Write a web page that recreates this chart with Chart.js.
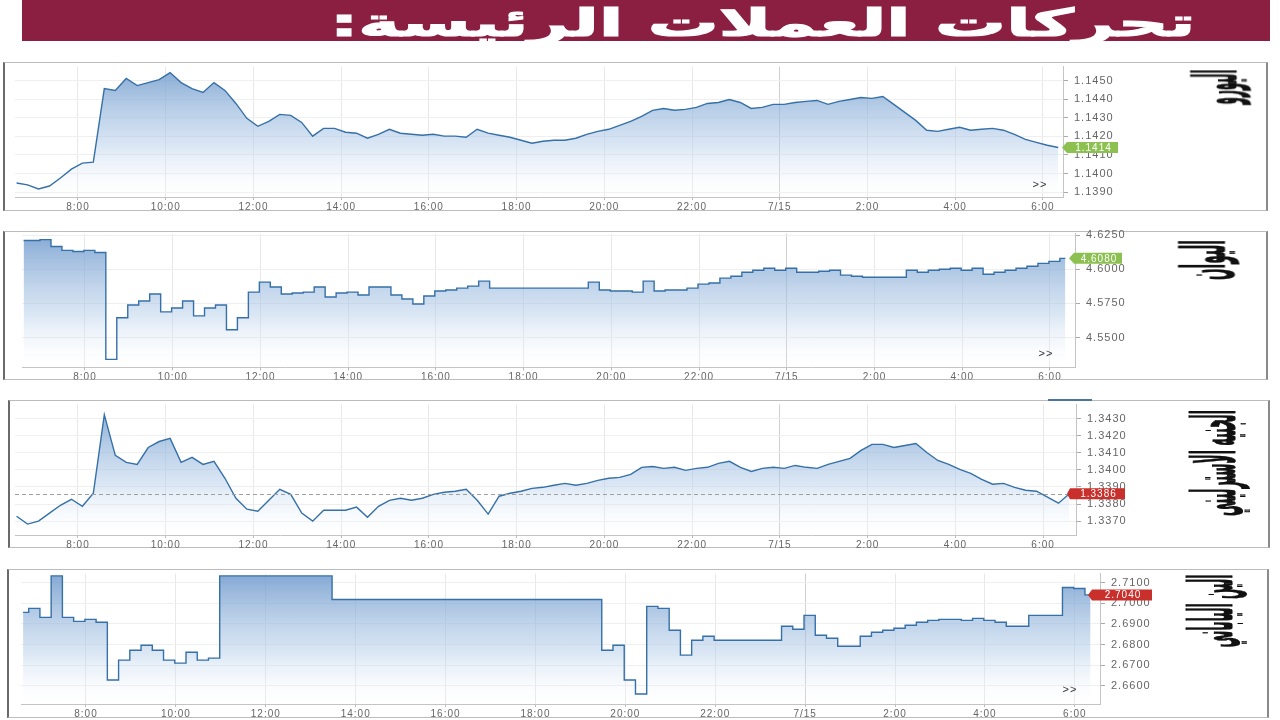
<!DOCTYPE html>
<html lang="ar">
<head>
<meta charset="utf-8">
<title>تحركات العملات الرئيسة</title>
<script src="https://cdn.jsdelivr.net/npm/chart.js@4.4.0/dist/chart.umd.min.js"></script>
<style>
  body { margin:0; width:1280px; height:720px; overflow:hidden; background:#fff; position:relative;
         font-family:"DejaVu Sans", sans-serif; }
  #banner { position:absolute; left:22px; top:0; width:1248px; height:41px; background:#8b1f42; }
  .fit { position:absolute; white-space:nowrap; line-height:1; font-weight:bold; transform-origin:50% 50%; }
  #title { color:#fff; font-size:38px; -webkit-text-stroke:1.2px #fff; }
  .name { color:#111; font-size:60px; -webkit-text-stroke:1px #111; }
  .box { position:absolute; box-sizing:border-box; border:1px solid #bcbcbc;
         border-left:2px solid #6a6a6a; border-right:2px solid #8a8a8a; background:#fff; }
  canvas { position:absolute; }
</style>
</head>
<body>
<div id="banner"></div>

<script>
// ---- data ----
const sampleStart = 6.6;    // first sample, hours (6:36)
const sampleStep  = 0.25;   // one value every 15 min
const xTickHours  = [8, 10, 12, 14, 16, 18, 20, 22, 24, 26, 28, 30];
const dayLabel    = "7/15";

const titleText   = "تحركات العملات الرئيسة:";
const seriesNames = ["اليورو", "اليوان", "الجنيه الاسترليني", "الين الياباني"];

const eurValues = [
  1.13949, 1.13939, 1.13917, 1.13933, 1.13976, 1.14024, 1.14056, 1.14061, 1.14457, 1.14447,
  1.14511, 1.14473, 1.14489, 1.14505, 1.14543, 1.14489, 1.14457, 1.14436, 1.14489, 1.14447,
  1.14377, 1.14297, 1.14254, 1.14281, 1.14318, 1.14313, 1.14275, 1.14201, 1.14243, 1.14243,
  1.14222, 1.14217, 1.14190, 1.14211, 1.14238, 1.14217, 1.14211, 1.14206, 1.14211, 1.14201,
  1.14201, 1.14195, 1.14238, 1.14217, 1.14206, 1.14195, 1.14179, 1.14163, 1.14174, 1.14179,
  1.14179, 1.14190, 1.14211, 1.14227, 1.14238, 1.14259, 1.14281, 1.14307, 1.14340, 1.14350,
  1.14340, 1.14345, 1.14356, 1.14377, 1.14382, 1.14398, 1.14382, 1.14350, 1.14356, 1.14372,
  1.14372, 1.14382, 1.14388, 1.14393, 1.14372, 1.14388, 1.14398, 1.14409, 1.14404, 1.14414,
  1.14372, 1.14329, 1.14286, 1.14233, 1.14227, 1.14238, 1.14249, 1.14233, 1.14238, 1.14243,
  1.14233, 1.14211, 1.14184, 1.14168, 1.14152, 1.14140
];
const cnyValues = [
  4.6210, 4.6210, 4.6217, 4.6167, 4.6138, 4.6130, 4.6138, 4.6123, 4.5341, 4.5645,
  4.5739, 4.5768, 4.5819, 4.5688, 4.5717, 4.5768, 4.5659, 4.5717, 4.5739, 4.5558,
  4.5645, 4.5833, 4.5906, 4.5870, 4.5819, 4.5826, 4.5833, 4.5870, 4.5797, 4.5826,
  4.5833, 4.5812, 4.5870, 4.5870, 4.5812, 4.5783, 4.5746, 4.5804, 4.5841, 4.5848,
  4.5862, 4.5877, 4.5913, 4.5862, 4.5862, 4.5862, 4.5862, 4.5862, 4.5862, 4.5862,
  4.5862, 4.5862, 4.5906, 4.5848, 4.5841, 4.5841, 4.5833, 4.5913, 4.5841, 4.5848,
  4.5848, 4.5862, 4.5891, 4.5899, 4.5935, 4.5949, 4.5978, 4.5993, 4.6007, 4.5993,
  4.6007, 4.5978, 4.5978, 4.5986, 4.5993, 4.5957, 4.5949, 4.5942, 4.5942, 4.5942,
  4.5942, 4.5993, 4.5978, 4.5993, 4.6000, 4.6007, 4.5993, 4.6007, 4.5964, 4.5978,
  4.5993, 4.6007, 4.6022, 4.6043, 4.6058, 4.6080
];
const gbpValues = [
  1.33729, 1.33683, 1.33700, 1.33747, 1.33793, 1.33828, 1.33787, 1.33863, 1.34323, 1.34085,
  1.34044, 1.34032, 1.34131, 1.34166, 1.34184, 1.34044, 1.34073, 1.34032, 1.34050, 1.33951,
  1.33834, 1.33770, 1.33758, 1.33822, 1.33886, 1.33857, 1.33747, 1.33700, 1.33764, 1.33764,
  1.33764, 1.33782, 1.33723, 1.33787, 1.33822, 1.33834, 1.33822, 1.33834, 1.33857, 1.33869,
  1.33875, 1.33886, 1.33822, 1.33741, 1.33846, 1.33863, 1.33875, 1.33892, 1.33898, 1.33910,
  1.33921, 1.33910, 1.33921, 1.33939, 1.33951, 1.33956, 1.33974, 1.34015, 1.34020, 1.34009,
  1.34015, 1.33997, 1.34009, 1.34015, 1.34038, 1.34050, 1.34015, 1.33991, 1.34009, 1.34015,
  1.34009, 1.34026, 1.34015, 1.34009, 1.34032, 1.34050, 1.34067, 1.34114, 1.34149, 1.34149,
  1.34131, 1.34143, 1.34154, 1.34102, 1.34055, 1.34032, 1.34003, 1.33980, 1.33945, 1.33916,
  1.33921, 1.33898, 1.33881, 1.33875, 1.33840, 1.33805, 1.33860
];
const jpyValues = [
  2.69557, 2.69749, 2.69317, 2.71320, 2.69317, 2.69124, 2.69220, 2.69076, 2.66286, 2.67248,
  2.67729, 2.67970, 2.67729, 2.67248, 2.67104, 2.67633, 2.67248, 2.67344, 2.71320, 2.71320,
  2.71320, 2.71320, 2.71320, 2.71320, 2.71320, 2.71320, 2.71320, 2.71320, 2.70182, 2.70182,
  2.70182, 2.70182, 2.70182, 2.70182, 2.70182, 2.70182, 2.70182, 2.70182, 2.70182, 2.70182,
  2.70182, 2.70182, 2.70182, 2.70182, 2.70182, 2.70182, 2.70182, 2.70182, 2.70182, 2.70182,
  2.70182, 2.70182, 2.67729, 2.67970, 2.66286, 2.65613, 2.69846, 2.69749, 2.68691, 2.67489,
  2.68210, 2.68403, 2.68210, 2.68210, 2.68210, 2.68210, 2.68210, 2.68210, 2.68884, 2.68739,
  2.69413, 2.68451, 2.68306, 2.67922, 2.67922, 2.68403, 2.68595, 2.68691, 2.68787, 2.68932,
  2.69076, 2.69172, 2.69220, 2.69220, 2.69172, 2.69268, 2.69172, 2.69076, 2.68884, 2.68884,
  2.69413, 2.69413, 2.69413, 2.70760, 2.70711, 2.70400
];

const eurTicks = [1.1390, 1.1400, 1.1410, 1.1420, 1.1430, 1.1440, 1.1450];
const cnyTicks = [4.5500, 4.5750, 4.6000, 4.6250];
const gbpTicks = [1.3370, 1.3380, 1.3390, 1.3400, 1.3410, 1.3420, 1.3430];
const jpyTicks = [2.6600, 2.6700, 2.6800, 2.6900, 2.7000, 2.7100];
const gbpPrevClose = 1.3386;

// ---- layout ----
const Y_W = 60;
const GREEN = "#8cc152", RED = "#c9302c";

const panels = [
  { values: eurValues, ticks: eurTicks, yMin: 1.13874, yMax: 1.14575, xMin: 6.564, xMax: 30.458,
    box: [3, 62, 1268, 211], plot: [15, 66, 1063, 197], stepped: false,
    badge: { color: GREEN, tip: -1, left: 4, right: 55 }, chevron: [-23, -12], name: [1215, 87, 35] },
  { values: cnyValues, ticks: cnyTicks, yMin: 4.5282, yMax: 4.6261, xMin: 6.564, xMax: 30.57,
    box: [3, 231, 1268, 380], plot: [22, 233, 1075, 368], stepped: "middle",
    badge: { color: GREEN, tip: -6, left: -1, right: 47 }, chevron: [-29, -13], name: [1203, 260, 40] },
  { values: gbpValues, ticks: gbpTicks, yMin: 1.33619, yMax: 1.34382, xMin: 6.564, xMax: 30.75,
    box: [8, 400, 1270, 548], plot: [15, 404, 1076, 535], stepped: false, prev: gbpPrevClose,
    badge: { color: RED, tip: -9, left: -6, right: 49 }, chevron: null, name: [1214, 463, 106] },
  { values: jpyValues, ticks: jpyTicks, yMin: 2.6513, yMax: 2.7143, xMin: 6.554, xMax: 30.56,
    box: [7, 569, 1269, 718], plot: [21, 573, 1100, 704], stepped: "middle",
    badge: { color: RED, tip: -12, left: -8, right: 52 }, chevron: [-30, -14], name: [1211, 611, 73] }
];

function hourLabel(v) {
  return v === 24 ? dayLabel : (v % 24) + ":00";
}

const extras = {
  id: "extras",
  beforeDraw(chart) { chart.ctx.letterSpacing = "1px"; },
  afterDraw(chart, args, o) {
    const { ctx, chartArea: a } = chart;
    const ys = chart.scales.y;
    ctx.save();
    if (o.prev != null) {
      const py = Math.round(ys.getPixelForValue(o.prev)) + 0.5;
      ctx.strokeStyle = "#a0a0a0"; ctx.lineWidth = 1; ctx.setLineDash([4, 3]);
      ctx.beginPath(); ctx.moveTo(a.left, py); ctx.lineTo(a.right, py); ctx.stroke();
      ctx.setLineDash([]);
    }
    if (o.chevron) {
      ctx.fillStyle = "#333"; ctx.font = '11px "Liberation Sans", sans-serif';
      ctx.textAlign = "center"; ctx.textBaseline = "middle";
      ctx.fillText(">>", a.right + o.chevron[0], a.bottom + o.chevron[1]);
    }
    const b = o.badge, val = o.last, y = ys.getPixelForValue(val), r = a.right;
    ctx.fillStyle = b.color;
    ctx.beginPath();
    ctx.moveTo(r + b.tip, y);
    ctx.lineTo(r + b.left, y - 5.5); ctx.lineTo(r + b.right, y - 5.5);
    ctx.lineTo(r + b.right, y + 5.5); ctx.lineTo(r + b.left, y + 5.5);
    ctx.closePath(); ctx.fill();
    ctx.fillStyle = "#fff"; ctx.font = '10px "Liberation Sans", sans-serif';
    ctx.textAlign = "center"; ctx.textBaseline = "middle";
    ctx.fillText(val.toFixed(4), r + (b.left + b.right) / 2 + 1, y + 0.5);
    ctx.restore();
  }
};

function fillGradient(c) {
  const a = c.chart.chartArea;
  if (!a) return "rgba(120,160,210,0.4)";
  const g = c.chart.ctx.createLinearGradient(0, a.top, 0, a.bottom);
  g.addColorStop(0, "rgba(100,146,200,0.8)");
  g.addColorStop(0.6, "rgba(180,205,233,0.5)");
  g.addColorStop(1, "rgba(255,255,255,0.1)");
  return g;
}

const tickFont = { family: '"Liberation Sans", Arial, sans-serif', size: 10 };

panels.forEach((p) => {
  const [bx, by, bx2, by2] = p.box;
  const [pl, pt, pr, pb] = p.plot;

  const box = document.createElement("div");
  box.className = "box";
  Object.assign(box.style, { left: bx + "px", top: by + "px", width: (bx2 - bx) + "px", height: (by2 - by) + "px" });
  document.body.appendChild(box);

  const cTop = pt - 12, cW = 1270 - bx, cH = by2 - cTop;
  const cv = document.createElement("canvas");
  cv.width = cW; cv.height = cH;
  Object.assign(cv.style, { left: bx + "px", top: cTop + "px", width: cW + "px", height: cH + "px" });
  document.body.appendChild(cv);

  new Chart(cv, {
    type: "line",
    data: {
      datasets: [{
        data: p.values.map((v, i) => ({ x: sampleStart + i * sampleStep, y: v })),
        borderColor: "#3570a8",
        borderWidth: 1.4,
        pointRadius: 0,
        tension: 0,
        stepped: p.stepped,
        fill: "start",
        backgroundColor: fillGradient
      }]
    },
    options: {
      responsive: false,
      animation: false,
      devicePixelRatio: 1,
      layout: { padding: { left: pl - bx, top: 12, right: cW - (pr - bx) - Y_W, bottom: 0 } },
      plugins: {
        legend: { display: false },
        tooltip: { enabled: false },
        extras: { badge: p.badge, last: p.values[p.values.length - 1], prev: p.prev, chevron: p.chevron }
      },
      scales: {
        x: {
          type: "linear",
          min: p.xMin, max: p.xMax,
          afterBuildTicks: (s) => { s.ticks = xTickHours.map(v => ({ value: v })); },
          afterFit: (s) => { s.height = by2 - pb; },
          ticks: { callback: hourLabel, autoSkip: false, maxRotation: 0, font: tickFont, color: "#666", padding: 1 },
          grid: { color: (c) => (c.tick && c.tick.value === 24 ? "#cfcfcf" : "#e8e8e8"), tickLength: 3, tickColor: "#bbb" },
          border: { color: "#c4c4c4" }
        },
        y: {
          position: "right",
          min: p.yMin, max: p.yMax,
          afterBuildTicks: (s) => { s.ticks = p.ticks.map(v => ({ value: v })); },
          afterFit: (s) => { s.width = Y_W; },
          ticks: { callback: (v) => v.toFixed(4), font: { family: tickFont.family, size: 11 }, color: "#666", padding: 6 },
          grid: { color: "#efefef", tickLength: 5, tickColor: "#aaa" },
          border: { color: "#c4c4c4" }
        }
      }
    },
    plugins: [extras]
  });
});

// small blue mark on top of the third panel
const mark = document.createElement("div");
Object.assign(mark.style, { position: "absolute", left: "1048px", top: "399px", width: "44px", height: "2px", background: "#4a73a8" });
document.body.appendChild(mark);

// title and rotated series names
function place(el, cx, cy, len, rotate) {
  const w = el.offsetWidth, h = el.offsetHeight;
  el.style.left = (cx - w / 2) + "px";
  el.style.top = (cy - h / 2) + "px";
  el.style.transform = (rotate ? "rotate(-90deg) " : "") + "scaleX(" + (len / w) + ")";
}

const title = document.createElement("div");
title.id = "title"; title.className = "fit"; title.dir = "rtl";
title.textContent = titleText;
document.body.appendChild(title);
place(title, 762, 22.5, 865, false);

panels.forEach((p, k) => {
  const el = document.createElement("div");
  el.className = "fit name"; el.dir = "rtl";
  el.textContent = seriesNames[k];
  document.body.appendChild(el);
  place(el, p.name[0], p.name[1], p.name[2], true);
});
</script>
</body>
</html>
